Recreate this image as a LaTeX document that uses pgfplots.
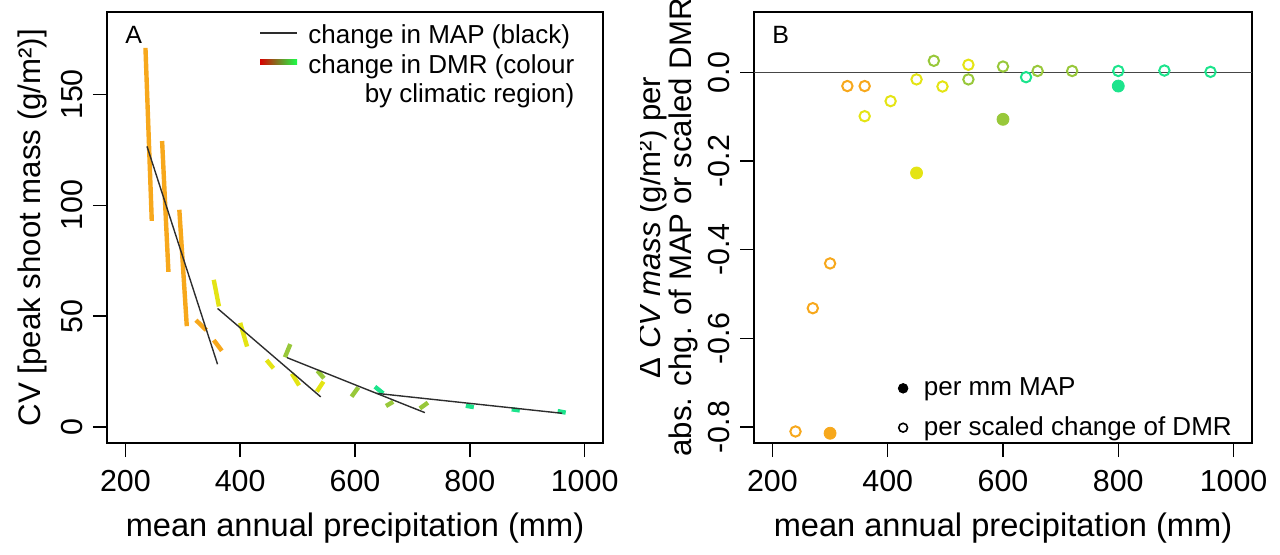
\documentclass[border=0pt]{standalone}
\usepackage{fontspec}
\setmainfont{Liberation Sans}
\usepackage{pgfplots}
\pgfplotsset{compat=1.18}
\definecolor{cO}{RGB}{247,168,28}
\definecolor{cY}{RGB}{228,228,20}
\definecolor{cG}{RGB}{152,200,58}
\definecolor{cT}{RGB}{28,228,140}
\definecolor{cK}{RGB}{45,45,45}
\newcommand{\fs}{\fontsize{15.2}{18}\selectfont}
\newcommand{\fx}{\fontsize{16.3}{19}\selectfont}
\newcommand{\fy}{\fontsize{15.6}{18}\selectfont}
\newcommand{\fl}{\fontsize{13}{14.8}\selectfont}
\pgfplotsset{
  rbase/.style={
    scale only axis, anchor=south west,
    width=248pt, height=215.5pt,
    xmin=168, xmax=1032,
    axis line style={line width=0.75pt},
    every tick/.style={line width=0.75pt, black},
    tick align=outside, major tick length=7pt,
    xtick pos=left, ytick pos=left,
    xtick={200,400,600,800,1000},
    xticklabels={200,400,600,800,1000},
    tick label style={font=\fs},
    xticklabel style={anchor=base, yshift=-17pt},
    yticklabel style={xshift=-5.5pt, rotate=90, anchor=base},
    xlabel={mean annual precipitation (mm)},
    xlabel style={at={(axis description cs:0.5,-0.218)}, anchor=base, font=\fx},
  },
  seg/.style={line width=2.2pt, line cap=butt},
}
\begin{document}
\begin{tikzpicture}[font=\fl]
\path[use as bounding box] (0,0) rectangle (640pt,277pt);
% ---------------- Panel A ----------------
\begin{axis}[rbase, at={(53.5pt,55.5pt)},
  ymin=-7.2, ymax=187.2,
  ytick={0,50,100,150}, yticklabels={0,50,100,150},
  ylabel={CV [peak shoot mass (g/m²)]},
  ylabel style={at={(axis description cs:-0.135,0.5)}, anchor=base, font=\fy},
]
% DMR segments, orange region
\addplot[seg, cO] coordinates {(235,171) (246,93)};
\addplot[seg, cO] coordinates {(264,129) (275,70)};
\addplot[seg, cO] coordinates {(294,98) (307,45.5)};
\addplot[seg, cO] coordinates {(323,48.2) (341,43.7)};
\addplot[seg, cO] coordinates {(354,39.2) (368,34.4)};
% yellow region
\addplot[seg, cY] coordinates {(354,66.4) (363,54.4)};
\addplot[seg, cY] coordinates {(400,47) (412,36.3)};
\addplot[seg, cY] coordinates {(446,30.2) (458,26.5)};
\addplot[seg, cY] coordinates {(490,24.1) (502.6,18.8)};
\addplot[seg, cY] coordinates {(533.5,16) (545,20.5)};
% olive region
\addplot[seg, cG] coordinates {(478,31.5) (487.3,37.4)};
\addplot[seg, cG] coordinates {(534.5,25.4) (546,22)};
\addplot[seg, cG] coordinates {(594,13.7) (605.7,17.9)};
\addplot[seg, cG] coordinates {(654,9.5) (666.5,11.4)};
\addplot[seg, cG] coordinates {(713,8.4) (727,11)};
% teal region
\addplot[seg, cT] coordinates {(634.7,18.2) (649,15.2)};
\addplot[seg, cT] coordinates {(793,9.6) (807,9.0)};
\addplot[seg, cT] coordinates {(873,8) (887,7.5)};
\addplot[seg, cT] coordinates {(953,7.2) (967,6.5)};
% MAP lines
\addplot[cK, line width=0.7pt] coordinates {(237.7,126.6) (360.6,28.3)};
\addplot[cK, line width=0.7pt] coordinates {(360.6,53.5) (540.3,13.6)};
\addplot[cK, line width=0.7pt] coordinates {(481.6,31.3) (721.7,6.5)};
\addplot[cK, line width=0.7pt] coordinates {(637.6,15.2) (961,6.2)};
\node[anchor=base west, inner sep=0pt, font=\fontsize{12.5}{14}\selectfont] at (axis description cs:0.036,0.928) {A};
\end{axis}
% legend of panel A
\draw[cK, line width=0.7pt] (130pt,260.5pt) -- (148.5pt,260.5pt);
\shade[left color=red!85!black, middle color=yellow, right color=green!80!cyan!90!white] (130pt,245pt) rectangle (148.5pt,247.2pt);
\node[anchor=base west, inner sep=0pt] at (154pt,255.5pt) {change in MAP (black)};
\node[anchor=base west, inner sep=0pt] at (154pt,240.5pt) {\begin{tabular}[t]{@{}r@{}}change in DMR (colour\\by climatic region)\end{tabular}};
% ---------------- Panel B ----------------
\begin{axis}[rbase, at={(377pt,55.5pt)}, width=249pt,
  ymin=-0.836, ymax=0.136,
  ytick={-0.8,-0.6,-0.4,-0.2,0}, yticklabels={-0.8,-0.6,-0.4,-0.2,0.0},
  legend style={draw=none, fill=none, at={(axis description cs:0.289,0.0)}, anchor=south west, inner sep=0pt, row sep=5pt, font=\fl,
    /tikz/every odd column/.append style={column sep=6pt}},
  legend cell align=left,
]
\addplot[forget plot, color={rgb,255:red,70;green,70;blue,70}, line width=0.75pt] coordinates {(168,0) (1032,0)};
\addplot[forget plot, only marks, mark=o, mark size=2.6pt, cO, line width=1pt] coordinates {(240,-0.81) (270,-0.532) (300,-0.431) (330,-0.031) (360,-0.031)};
\addplot[forget plot, only marks, mark=o, mark size=2.6pt, cY, line width=1pt] coordinates {(360,-0.099) (405,-0.065) (450,-0.016) (495,-0.032) (540,0.017)};
\addplot[forget plot, only marks, mark=o, mark size=2.6pt, cG, line width=1pt] coordinates {(480,0.026) (540,-0.016) (600,0.013) (660,0.003) (720,0.003)};
\addplot[forget plot, only marks, mark=o, mark size=2.6pt, cT, line width=1pt] coordinates {(640,-0.011) (800,0.003) (880,0.004) (960,0.001)};
\addplot[forget plot, only marks, mark=*, mark size=3pt, cO] coordinates {(300,-0.814)};
\addplot[forget plot, only marks, mark=*, mark size=3pt, cY] coordinates {(450,-0.227)};
\addplot[forget plot, only marks, mark=*, mark size=3pt, cG] coordinates {(600,-0.106)};
\addplot[forget plot, only marks, mark=*, mark size=3pt, cT] coordinates {(800,-0.031)};
\addlegendimage{only marks, mark=*, mark size=2.4pt, black}
\addlegendentry{per mm MAP}
\addlegendimage{only marks, mark=o, mark size=2.2pt, black, line width=0.8pt}
\addlegendentry{per scaled change of DMR}
\node[anchor=base west, inner sep=0pt, font=\fontsize{12.5}{14}\selectfont] at (axis description cs:0.036,0.928) {B};
\end{axis}
\begin{scope}
\clip (320pt,0pt) rectangle (640pt,277pt);
\node[rotate=90, anchor=base, inner sep=0pt, font=\fy] at (330pt,163.25pt) {Δ \textit{CV mass} (g/m²) per};
\node[rotate=90, anchor=base, inner sep=0pt, font=\fy] at (345.5pt,163.25pt) {abs. chg. of MAP or scaled DMR};
\end{scope}
\end{tikzpicture}
\end{document}
